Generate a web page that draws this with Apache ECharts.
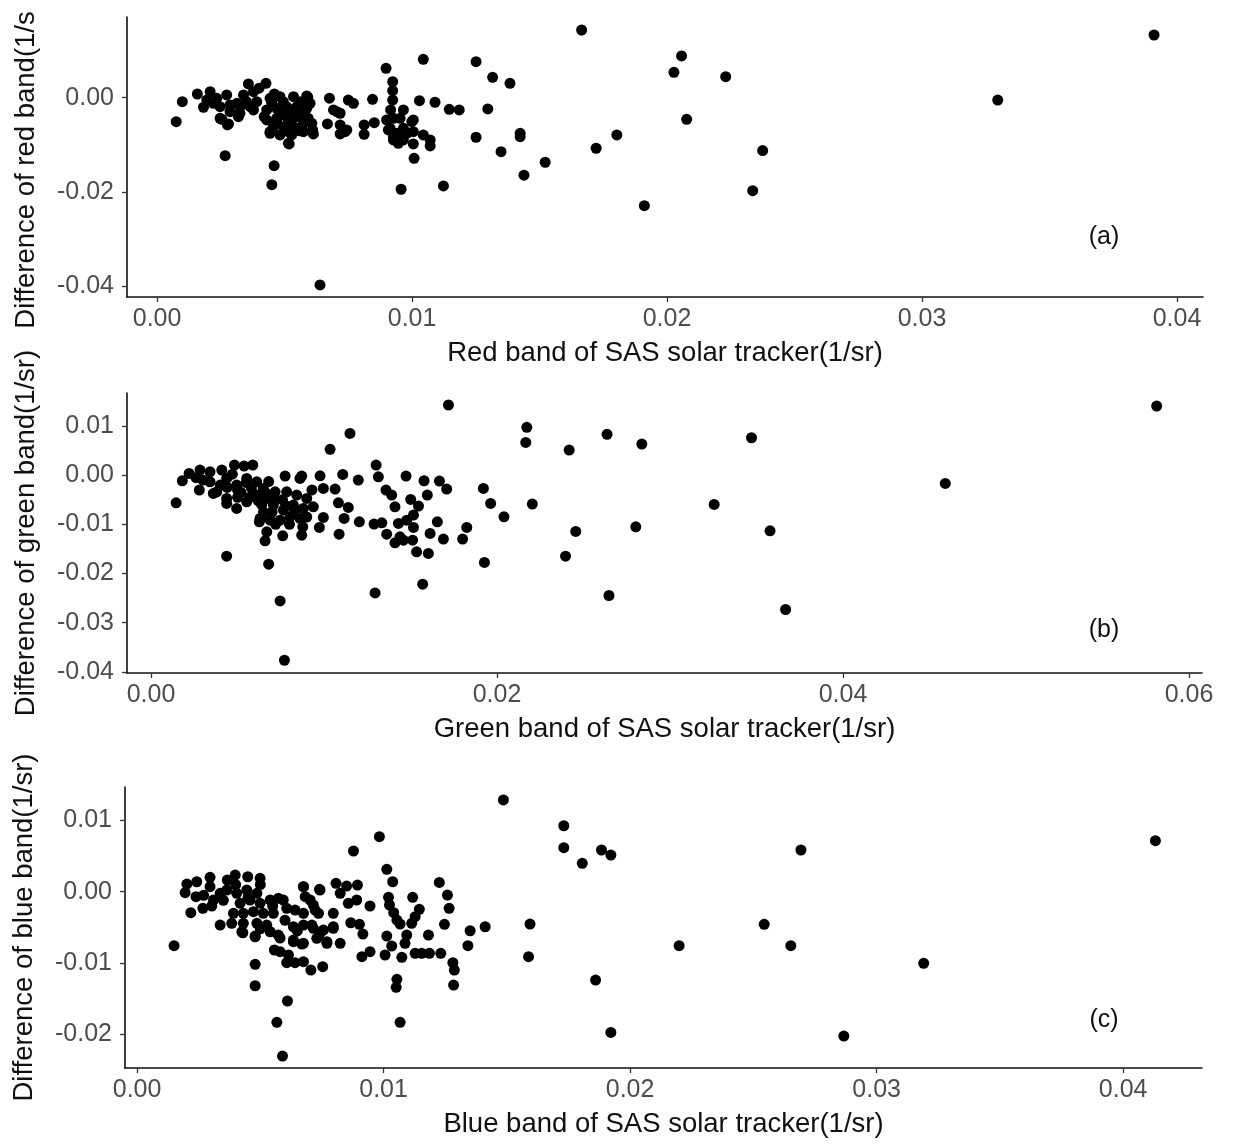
<!DOCTYPE html>
<html>
<head>
<meta charset="utf-8">
<script src="https://cdn.jsdelivr.net/npm/echarts@6/dist/echarts.min.js"></script>
<style>
html,body{margin:0;padding:0;background:#fff;}
#chart{width:1233px;height:1144px;}
</style>
</head>
<body>
<div id="chart"></div>
<script>
// ---------- data: [SAS solar tracker value, difference] ----------
const redPoints = [
[0.00075,-0.00508],[0.00099,-0.00085],[0.00158,0.00078],[0.00208,0.00127],[0.00182,-0.00203],
[0.00247,-0.00436],[0.00276,-0.00578],[0.00267,-0.01228],[0.00358,0.0029],[0.00378,0.00127],
[0.00427,0.00305],[0.00443,-0.00754],[0.00459,-0.01439],[0.0045,-0.01841],[0.00518,-0.0098],
[0.00591,0.0001],[0.00613,-0.00768],[0.00639,-0.03964],[0.00676,-0.0001],[0.00668,-0.00557],
[0.00718,-0.00768],[0.0075,-0.0005],[0.0077,-0.0012],[0.00705,-0.00296],[0.00744,-0.00684],
[0.00812,-0.00578],[0.00812,-0.00775],[0.00845,-0.00035],[0.00852,-0.00529],[0.00898,0.00622],
[0.00924,0.00339],[0.00924,0.00148],[0.00924,-0.0005],[0.00916,-0.0026],[0.00927,-0.00436],
[0.00907,-0.00684],[0.00927,-0.00825],[0.00946,-0.00966],[0.00966,-0.0026],[0.00979,-0.00754],
[0.01005,-0.00472],[0.01005,-0.0098],[0.01008,-0.01283],[0.00957,-0.01939],[0.01029,-0.00063],
[0.01044,0.00813],[0.01044,-0.00789],[0.01071,-0.00895],[0.01071,-0.01022],[0.0109,-0.00097],
[0.01123,-0.01869],[0.01146,-0.00246],[0.01185,-0.0026],[0.01251,0.00762],[0.01251,-0.00838],
[0.01297,-0.00239],[0.01316,0.00432],[0.01349,-0.01143],[0.01384,0.00305],[0.01424,-0.00754],
[0.01424,-0.00825],[0.01439,-0.01642],[0.01665,0.01433],[0.01803,-0.00789],[0.01722,-0.01071],
[0.01911,-0.02286],[0.02027,0.00537],[0.02057,0.00883],[0.0223,0.00445],[0.02077,-0.00458],
[0.02375,-0.01121],[0.02336,-0.01968],[0.01522,-0.01367],[0.03297,-0.0005],[0.0391,0.01327],
[0.00254,-0.00457],[0.0028,-0.00557],[0.00234,-0.00013],[0.00273,0.00057],[0.00313,-0.00119],
[0.00247,-0.0019],[0.00339,0.00057],[0.00365,-0.0019],[0.00325,-0.0033],[0.00286,-0.00296],
[0.00391,-0.00085],[0.00221,-0.00119],[0.00195,-0.0005],[0.00443,-0.00013],[0.00482,0.00021],
[0.00535,0.00021],[0.00587,0.00036],[0.00443,-0.0072],[0.00515,-0.00966],[0.00574,-0.0072],
[0.0043,-0.0026],[0.00469,-0.00225],[0.00508,-0.0019],[0.00548,-0.0019],[0.00587,-0.00225],
[0.0043,-0.00472],[0.00469,-0.00436],[0.00508,-0.00402],[0.00548,-0.00402],[0.00593,-0.00436],
[0.00456,-0.00614],[0.00495,-0.00614],[0.00535,-0.00614],[0.00574,-0.00542],[0.00482,-0.00789],
[0.00528,-0.00789],[0.00489,-0.0033],[0.00528,-0.00296],[0.00567,-0.0033],[0.0045,-0.00119],
[0.00495,-0.00085],[0.00561,-0.00085],[0.00607,-0.00542],[0.00692,-0.0026],[0.00718,-0.0033],
[0.00718,-0.00578],[0.00737,-0.0072],[0.00914,-0.00648],[0.0094,-0.00754],[0.00966,-0.00648],
[0.00999,-0.00508],[0.01005,-0.0072],[0.00927,-0.00895],[0.00966,-0.00895],[0.009,-0.00472],
[0.00953,-0.00436],[0.00286,-0.00154],[0.00325,-0.0019],[0.00378,-0.0026],[0.00319,-0.00402],
[0.0052,-0.0055],[0.0061,-0.0068],[0.0047,-0.0052],[0.0056,-0.007],[0.006,-0.0012],
[0.0046,0.0008],[0.004,0.002],[0.0035,-0.0008],[0.0042,-0.004],[0.0051,-0.0071]
];

const greenPoints = [
[0.00145,-0.00561],[0.00181,-0.00113],[0.0022,0.00036],[0.00283,0.00104],[0.00279,-0.00303],
[0.00341,0.00069],[0.00409,0.00104],[0.00482,0.00206],[0.00538,0.00185],[0.00588,0.00206],
[0.0036,-0.0037],[0.00437,-0.00574],[0.00495,-0.00676],[0.00437,-0.01646],[0.00626,-0.00948],
[0.00669,-0.01152],[0.00659,-0.01335],[0.0068,-0.01809],[0.00746,-0.02556],[0.00771,-0.03763],
[0.00761,-0.01233],[0.00775,-0.00018],[0.00871,-0.00018],[0.00871,-0.01219],[0.00877,-0.0105],
[0.00977,-0.00012],[0.00973,-0.01062],[0.00996,-0.00859],[0.01035,0.00525],[0.01064,-0.00283],
[0.01083,-0.00561],[0.0114,-0.00655],[0.01116,-0.00879],[0.01087,-0.01199],[0.0115,0.0085],
[0.01108,0.00016],[0.01198,-0.001],[0.01204,-0.00948],[0.01301,0.00206],[0.01314,-0.00033],
[0.01295,-0.02393],[0.01289,-0.00995],[0.01334,-0.00968],[0.01358,-0.00303],[0.01391,-0.00405],
[0.0141,-0.00643],[0.01362,-0.01199],[0.0141,-0.01376],[0.0143,-0.00981],[0.01474,-0.00018],
[0.01501,-0.00493],[0.01517,-0.00812],[0.01546,-0.00629],[0.01517,-0.01062],[0.01459,-0.01321],
[0.01512,-0.01321],[0.01535,-0.01559],[0.01603,-0.01591],[0.0157,-0.02216],[0.01578,-0.00113],
[0.01597,-0.00405],[0.01613,-0.01185],[0.01655,-0.00948],[0.01667,-0.0012],[0.01709,-0.00283],
[0.0169,-0.013],[0.01719,0.01427],[0.01801,-0.013],[0.01825,-0.01062],[0.01921,-0.00269],
[0.01963,-0.00574],[0.0204,-0.00847],[0.01927,-0.01775],[0.02172,0.00973],[0.02166,0.00667],
[0.02204,-0.00588],[0.02417,0.00511],[0.02396,-0.01646],[0.02455,-0.01144],[0.02636,0.0083],
[0.02647,-0.02446],[0.02802,-0.0105],[0.02837,0.00633],[0.03255,-0.00594],[0.03471,0.00761],
[0.03578,-0.01131],[0.03668,-0.02731],[0.04591,-0.00167],[0.05813,0.01406],
[0.00341,-0.00134],[0.0038,-0.00338],[0.00437,-0.00065],[0.00495,-0.00201],[0.00553,-0.00065],
[0.00611,-0.00134],[0.00649,-0.00269],[0.00437,-0.00472],[0.00553,-0.00541],[0.00611,-0.00405],
[0.00669,-0.00472],[0.00717,-0.00338],[0.00861,-0.00065],[0.00784,-0.00338],[0.00842,-0.00405],
[0.009,-0.00472],[0.00707,-0.00608],[0.00765,-0.0071],[0.00823,-0.00608],[0.0088,-0.00676],
[0.00938,-0.00643],[0.0063,-0.00879],[0.00688,-0.00914],[0.00746,-0.00914],[0.00803,-0.00847],
[0.00861,-0.00879],[0.00996,-0.00269],[0.01439,-0.01254],[0.01478,-0.00914],
[0.0052,-0.0035],[0.0058,-0.0026],[0.0064,-0.006],[0.0076,-0.005],[0.005,-0.0045],[0.007,-0.0075],
[0.0044,-0.0025],[0.005,-0.003],[0.0057,-0.0045],[0.0062,-0.0052],[0.0066,-0.0035],
[0.0071,-0.0048],[0.0078,-0.0062],[0.0083,-0.0072],[0.0055,-0.0015],[0.0047,0.0002],
[0.0065,-0.0075],[0.0072,-0.01],[0.008,-0.01],[0.009,-0.0085],[0.0093,-0.003],
[0.0068,-0.0013],[0.004,-0.002],[0.003,-0.001],[0.0026,-0.0005]
];

const bluePoints = [
[0.0015,-0.00757],[0.00195,-0.00014],[0.00202,0.00108],[0.00242,0.0014],[0.00239,-0.0007],
[0.00218,-0.00294],[0.00267,-0.00233],[0.00296,0.00202],[0.00303,-0.002],[0.00337,-0.00467],
[0.00366,0.00164],[0.00398,0.00234],[0.00449,0.0021],[0.00499,0.00188],[0.00384,-0.00443],
[0.00429,-0.00575],[0.00479,-0.00621],[0.00479,-0.01018],[0.00479,-0.01318],[0.00567,-0.01831],
[0.0061,-0.01532],[0.0059,-0.02303],[0.00557,-0.00817],[0.0058,-0.00841],[0.00614,-0.00887],
[0.00607,-0.00995],[0.00641,-0.00995],[0.00675,-0.00981],[0.00705,-0.01098],[0.00753,-0.01051],
[0.00634,-0.00701],[0.00668,-0.00733],[0.00675,0.0007],[0.0074,0.00034],[0.00682,-0.0007],
[0.00715,-0.00186],[0.00736,-0.00303],[0.00796,-0.00303],[0.00807,0.00118],[0.00824,-0.00022],
[0.0085,0.0008],[0.00894,0.00094],[0.00878,0.00571],[0.00857,-0.00163],[0.00891,-0.00116],
[0.00945,-0.002],[0.00867,-0.00435],[0.00902,-0.00457],[0.00916,-0.00593],[0.00824,-0.00723],
[0.0077,-0.00723],[0.00796,-0.00513],[0.00742,-0.00583],[0.00709,-0.00467],[0.00983,0.00771],
[0.01013,0.00314],[0.01037,0.0014],[0.0102,-0.00079],[0.01024,-0.00186],[0.01041,-0.00294],
[0.01054,-0.00397],[0.01067,-0.00453],[0.01013,-0.00621],[0.01033,-0.00761],[0.01006,-0.00887],
[0.01074,-0.0092],[0.01054,-0.01228],[0.01051,-0.0134],[0.01067,-0.01831],[0.01094,-0.00607],
[0.01087,-0.00723],[0.01118,-0.00079],[0.01145,-0.00247],[0.01128,-0.0035],[0.01114,-0.00443],
[0.01182,-0.00607],[0.01128,-0.00864],[0.01155,-0.00864],[0.01186,-0.00864],[0.01232,-0.00864],
[0.01226,0.00131],[0.01259,-0.00047],[0.01266,-0.00233],[0.01247,-0.00457],[0.01281,-0.00995],
[0.01287,-0.01098],[0.01284,-0.01308],[0.01342,-0.00757],[0.01351,-0.00547],[0.01412,-0.00491],
[0.01486,0.01286],[0.01594,-0.00453],[0.01588,-0.00911],[0.01731,0.00925],[0.01731,0.00617],
[0.01806,0.00398],[0.01884,0.00585],[0.01922,0.00514],[0.0186,-0.01238],[0.01922,-0.01972],
[0.02199,-0.00757],[0.02544,-0.00457],[0.02693,0.00585],[0.02652,-0.00757],[0.02867,-0.02023],
[0.03191,-0.01004],[0.04131,0.00715],
[0.00296,0.0007],[0.00337,-0.00022],[0.0031,-0.00116],[0.00364,0.00024],[0.00404,-0.00022],
[0.00445,0.00024],[0.00486,-0.00022],[0.00418,-0.00163],[0.00458,-0.00116],[0.00499,-0.00163],
[0.0054,-0.00116],[0.00573,-0.00093],[0.00593,-0.00116],[0.00391,-0.00303],[0.00431,-0.00303],
[0.00472,-0.0028],[0.00512,-0.00303],[0.00553,-0.00303],[0.00431,-0.00443],[0.00486,-0.00443],
[0.00526,-0.00467],[0.00425,-0.00561],[0.00479,-0.00631],[0.0054,-0.00561],[0.00573,-0.00607],
[0.00607,-0.00233],[0.00641,-0.00257],[0.00675,-0.00303],[0.00634,-0.00491],[0.00675,-0.00467],
[0.00715,-0.00513],[0.00756,-0.00537],[0.00796,-0.00491],[0.00634,-0.00677],[0.00675,-0.00723],
[0.00729,-0.00653],[0.0077,-0.007],[0.00675,0.0007],[0.00742,0.00024],[0.00702,-0.00116],
[0.00722,-0.00257],[0.00912,-0.00911],[0.00945,-0.00841],
[0.004,0.001],[0.005,0.001],[0.0045,-0.0008],[0.0055,-0.002],[0.006,-0.004],
[0.0065,-0.0055],[0.005,-0.0052],[0.0058,-0.0065],[0.0035,-0.0012],[0.0027,-0.0005]
];

// ---------- tick values ----------
const xTicksRed   = [0.00, 0.01, 0.02, 0.03, 0.04];
const yTicksRed   = [-0.04, -0.02, 0.00];
const xTicksGreen = [0.00, 0.02, 0.04, 0.06];
const yTicksGreen = [-0.04, -0.03, -0.02, -0.01, 0.00, 0.01];
const xTicksBlue  = [0.00, 0.01, 0.02, 0.03, 0.04];
const yTicksBlue  = [-0.02, -0.01, 0.00, 0.01];

// ---------- texts ----------
const xTitles = ['Red band of SAS solar tracker(1/sr)', 'Green band of SAS solar tracker(1/sr)', 'Blue band of SAS solar tracker(1/sr)'];
const yTitles = ['Difference of red band(1/s', 'Difference of green band(1/sr)', 'Difference of blue band(1/sr)'];
const panelTags = ['(a)', '(b)', '(c)'];

// axis ranges (data range expanded by 5% on each side)
const xRanges = [[-0.00118, 0.04102], [-0.00139, 0.06075], [-0.00049, 0.0432]];
const yRanges = [[-0.0422, 0.01708], [-0.04022, 0.01671], [-0.02471, 0.01468]];

const grids = [
  {left: 127, top: 17, width: 1076, height: 280},
  {left: 127, top: 393, width: 1075, height: 280},
  {left: 125, top: 787, width: 1077, height: 281}
];
const tagPos = [[1104, 237], [1104, 630], [1104, 1020]];

const FONT = '"Liberation Sans", Arial, Helvetica, sans-serif';
const fmt = v => (Math.abs(v) < 1e-12 ? 0 : v).toFixed(2);

const xTicks = [xTicksRed, xTicksGreen, xTicksBlue];
const yTicks = [yTicksRed, yTicksGreen, yTicksBlue];
const seriesData = [redPoints, greenPoints, bluePoints];

const axisCommon = {
  type: 'value',
  splitLine: {show: false},
  axisLine: {show: true, onZero: false, lineStyle: {color: '#111', width: 1.6}},
  axisTick: {show: true, length: 5, lineStyle: {color: '#333', width: 1.3}},
};

const option = {
  animation: false,
  backgroundColor: '#ffffff',
  grid: grids.map(g => Object.assign({containLabel: false}, g)),
  xAxis: [0,1,2].map(i => Object.assign({}, axisCommon, {
    gridIndex: i,
    min: xRanges[i][0], max: xRanges[i][1],
    axisTick: Object.assign({}, axisCommon.axisTick, {customValues: xTicks[i]}),
    axisLabel: {customValues: xTicks[i], formatter: fmt, margin: 10,
      color: '#4d4d4d', fontSize: 25, fontFamily: FONT},
    name: xTitles[i], nameLocation: 'middle', nameGap: 42,
    nameTextStyle: {color: '#111', fontSize: 27.5, fontFamily: FONT}
  })),
  yAxis: [0,1,2].map(i => Object.assign({}, axisCommon, {
    gridIndex: i,
    min: yRanges[i][0], max: yRanges[i][1],
    axisTick: Object.assign({}, axisCommon.axisTick, {customValues: yTicks[i]}),
    axisLabel: {customValues: yTicks[i], formatter: fmt, margin: 13,
      color: '#4d4d4d', fontSize: 25, fontFamily: FONT},
    name: yTitles[i], nameLocation: 'middle', nameGap: 87, nameRotate: 90,
    nameTextStyle: {color: '#111', fontSize: 27.5, fontFamily: FONT,
      padding: i === 0 ? [0, 26, 0, 0] : 0}
  })),
  series: [0,1,2].map(i => ({
    type: 'scatter',
    xAxisIndex: i, yAxisIndex: i,
    data: seriesData[i],
    symbol: 'circle', symbolSize: 11,
    itemStyle: {color: '#000', opacity: 1},
    emphasis: {disabled: true}
  })),
  graphic: panelTags.map((t, i) => ({
    type: 'text', x: tagPos[i][0], y: tagPos[i][1],
    style: {text: t, fill: '#111', font: '25px ' + FONT, textAlign: 'center', textVerticalAlign: 'middle'}
  }))
};

const chart = echarts.init(document.getElementById('chart'), null, {renderer: 'canvas'});
chart.setOption(option);
</script>
</body>
</html>
